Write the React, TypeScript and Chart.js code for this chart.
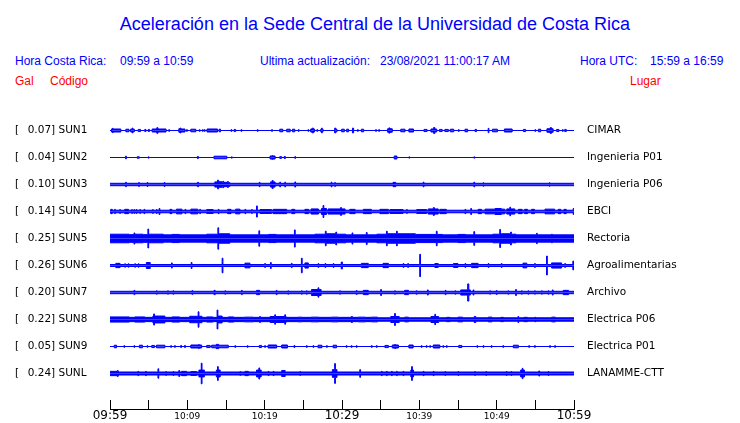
import React, { useEffect, useRef } from "react";
import { Chart, registerables } from "chart.js";

Chart.register(...registerables);

// ---------- data ----------
const CODES = ["SUN1", "SUN2", "SUN3", "SUN4", "SUN5", "SUN6", "SUN7", "SUN8", "SUN9", "SUNL"];
const PLACES = [
  "CIMAR", "Ingenieria P01", "Ingenieria P06", "EBCI", "Rectoria",
  "Agroalimentarias", "Archivo", "Electrica P06", "Electrica P01", "LANAMME-CTT",
];
const PEAKS = [0.07, 0.04, 0.1, 0.14, 0.25, 0.26, 0.2, 0.22, 0.05, 0.24];
// steady noise half-amplitude of each trace (Gal)
const BASE = [0, 0, 0.028, 0.03, 0.085, 0.023, 0.028, 0.04, 0, 0.035];
const TIME_LABELS = ["09:59", "10:09", "10:19", "10:29", "10:39", "10:49", "10:59"];

// envelope of each trace: [minute after 09:59, half-amplitude in Gal] (holds until next point)
const SUN1: [number, number][] = [
  [0, 0], [0.2, 0.035], [0.3, 0.05], [0.4, 0.035], [1.4, 0],
  [2.05, 0.03], [2.45, 0], [2.65, 0.03], [2.85, 0.055], [2.97, 0.03], [3.15, 0],
  [3.65, 0.025], [3.95, 0], [4.5, 0.025], [4.65, 0], [4.95, 0.025], [5.1, 0],
  [5.45, 0.035], [6.05, 0.065], [6.2, 0.035], [7.25, 0], [7.6, 0.02], [7.7, 0],
  [8.9, 0.04], [9.05, 0.055], [9.18, 0.035], [9.7, 0], [9.9, 0.02], [10.0, 0],
  [10.45, 0.03], [11.1, 0], [11.55, 0.02], [11.65, 0], [11.95, 0.02], [12.05, 0], [12.2, 0.02], [12.3, 0],
  [12.55, 0.035], [13.9, 0], [14.1, 0.03], [14.3, 0],
  [15.65, 0.02], [15.75, 0], [16.05, 0.025], [16.25, 0], [16.95, 0.02], [17.05, 0],
  [19.05, 0.02], [19.15, 0], [20.9, 0.02], [21.0, 0], [21.95, 0.03], [22.35, 0],
  [22.85, 0.03], [23.3, 0], [23.6, 0.03], [23.9, 0], [24.35, 0.02], [24.45, 0],
  [25.6, 0.02], [25.7, 0], [25.95, 0.035], [26.15, 0.055], [26.3, 0.035], [26.45, 0], [26.75, 0.02], [26.85, 0],
  [27.25, 0.03], [27.35, 0.055], [27.45, 0.03], [27.55, 0],
  [29.05, 0.055], [29.2, 0.03], [29.35, 0], [29.95, 0.03], [30.3, 0], [30.6, 0.03], [30.85, 0],
  [31.35, 0.055], [31.5, 0], [32.0, 0.02], [32.1, 0], [32.5, 0.03], [32.8, 0],
  [34.35, 0.02], [34.45, 0], [34.75, 0.02], [34.85, 0],
  [35.9, 0.04], [36.05, 0.06], [36.2, 0.04], [36.5, 0],
  [37.6, 0.03], [38.15, 0], [38.65, 0.035], [39.25, 0], [40.6, 0.025], [41.0, 0],
  [41.5, 0.035], [41.85, 0.07], [42.0, 0.035], [42.25, 0],
  [42.6, 0.025], [42.95, 0], [43.3, 0.025], [43.75, 0], [44.0, 0.03], [44.45, 0],
  [45.05, 0.02], [45.15, 0], [45.9, 0.03], [46.25, 0], [47.2, 0.025], [47.4, 0],
  [48.9, 0.05], [49.0, 0], [49.45, 0.03], [50.1, 0], [51.0, 0.035], [52.0, 0],
  [53.45, 0.025], [53.75, 0], [54.95, 0.02], [55.05, 0], [55.4, 0.03], [55.7, 0],
  [56.5, 0.04], [56.9, 0.065], [57.1, 0.04], [57.3, 0],
  [57.75, 0.025], [58.05, 0], [58.5, 0.02], [58.6, 0], [58.8, 0.025], [59.0, 0],
];
const SUN2: [number, number][] = [
  [0, 0], [2.0, 0.03], [2.12, 0], [3.5, 0.015], [3.8, 0], [4.95, 0.015], [5.05, 0],
  [11.3, 0.025], [11.42, 0], [13.45, 0.03], [15.1, 0], [15.7, 0.015], [15.8, 0],
  [20.7, 0.035], [20.95, 0.04], [21.1, 0.035], [21.35, 0], [21.95, 0.02], [22.2, 0],
  [22.5, 0.02], [22.7, 0], [23.9, 0.02], [24.0, 0], [36.75, 0.035], [37.1, 0],
  [38.65, 0.015], [38.75, 0], [47.05, 0.015], [47.15, 0],
];
const SUN3: [number, number][] = [
  [0, 0], [2.0, 0.05], [2.12, 0], [3.7, 0.045], [3.8, 0], [4.8, 0.045], [4.9, 0], [7.0, 0.045], [7.1, 0],
  [11.3, 0.05], [11.45, 0], [13.55, 0.06], [13.9, 0.1], [14.05, 0.065], [14.5, 0.055], [14.6, 0.075],
  [14.7, 0.05], [15.2, 0.07], [15.3, 0.045], [15.5, 0], [19.3, 0.05], [19.4, 0],
  [20.75, 0.06], [20.95, 0.09], [21.1, 0.06], [21.35, 0], [21.95, 0.055], [22.05, 0],
  [22.6, 0.055], [22.7, 0], [23.9, 0.06], [24.0, 0], [28.6, 0.055], [28.7, 0], [29.05, 0.045], [29.15, 0],
  [36.6, 0.05], [36.95, 0], [40.5, 0.055], [40.6, 0], [47.05, 0.055], [47.15, 0],
  [48.25, 0.04], [48.35, 0], [56.8, 0.04], [56.9, 0],
];
const SUN4: [number, number][] = [
  [0, 0], [0.1, 0.05], [0.3, 0], [0.6, 0.05], [0.7, 0], [1.25, 0.045], [1.35, 0], [1.9, 0.05], [2.4, 0],
  [2.8, 0.045], [2.9, 0], [3.1, 0.045], [3.2, 0], [3.4, 0.045], [3.5, 0], [3.85, 0.045], [3.95, 0],
  [4.4, 0.05], [4.5, 0], [5.5, 0.045], [5.6, 0], [6.0, 0.045], [6.1, 0], [6.35, 0.07], [6.45, 0],
  [7.75, 0.05], [8.0, 0], [8.6, 0.055], [9.3, 0], [9.7, 0.05], [9.8, 0], [10.45, 0.055], [11.35, 0],
  [11.6, 0.05], [11.7, 0], [12.5, 0.045], [13.35, 0], [14.0, 0.05], [14.1, 0], [15.2, 0.05], [15.65, 0],
  [16.25, 0.055], [16.8, 0], [17.45, 0.05], [17.55, 0], [18.3, 0.045], [18.4, 0], [18.95, 0.13], [19.05, 0],
  [19.4, 0.045], [20.9, 0], [21.1, 0.05], [22.85, 0], [23.5, 0.05], [23.9, 0], [25.2, 0.05], [25.7, 0],
  [26.0, 0.06], [26.95, 0], [27.35, 0.07], [27.55, 0.14], [27.65, 0.07], [28.0, 0], [28.2, 0.06],
  [29.8, 0.09], [29.95, 0.06], [30.4, 0], [31.0, 0.05], [31.7, 0], [32.75, 0.05], [33.8, 0],
  [34.9, 0.05], [36.0, 0], [36.2, 0.045], [37.9, 0], [38.35, 0.045], [38.45, 0], [39.65, 0.045], [40.95, 0],
  [41.15, 0.06], [41.8, 0.09], [41.95, 0.06], [42.45, 0], [42.65, 0.05], [43.5, 0], [45.9, 0.05], [46.0, 0],
  [46.65, 0.07], [46.75, 0], [47.6, 0.05], [48.05, 0], [48.5, 0.055], [49.8, 0.07], [50.6, 0.055], [51.05, 0],
  [51.3, 0.06], [51.7, 0.1], [51.8, 0.06], [52.35, 0], [52.8, 0.05], [53.3, 0], [53.6, 0.05], [54.0, 0],
  [54.5, 0.05], [54.9, 0], [56.25, 0.055], [57.5, 0], [57.95, 0.05], [58.3, 0], [58.7, 0.05], [59.0, 0],
  [59.9, 0.07],
];
const SUN5: [number, number][] = [
  [0, 0.1], [2.5, 0.09], [3.1, 0.13], [3.2, 0.1], [4.3, 0.09], [4.9, 0.22], [5.0, 0.1], [6.9, 0],
  [8.0, 0.095], [9.0, 0], [12.5, 0.1], [13.95, 0.25], [14.05, 0.11], [15.5, 0], [19.25, 0.18], [19.35, 0],
  [20.5, 0.095], [21.5, 0], [23.85, 0.2], [23.95, 0], [26.5, 0.1], [27.85, 0.17], [27.95, 0.11],
  [29.2, 0.15], [29.3, 0.1], [30.5, 0], [31.3, 0.13], [31.4, 0], [33.15, 0.14], [33.25, 0],
  [34.5, 0.1], [35.75, 0.17], [35.85, 0.11], [37.05, 0.17], [37.15, 0.11], [39.5, 0.095],
  [42.2, 0.17], [42.3, 0.095], [43.0, 0], [45.0, 0.095], [46.0, 0], [47.05, 0.16], [47.15, 0],
  [49.5, 0.1], [50.4, 0.21], [50.5, 0.11], [51.8, 0.15], [51.9, 0.1], [52.5, 0],
  [55.15, 0.12], [55.25, 0], [57.1, 0.1], [57.2, 0],
];
const SUN6: [number, number][] = [
  [0, 0], [0.75, 0.05], [1.3, 0], [1.9, 0.04], [2.0, 0], [2.35, 0.04], [2.45, 0], [3.2, 0.04], [3.3, 0],
  [3.65, 0.04], [3.75, 0], [4.7, 0.07], [5.2, 0], [7.95, 0.06], [8.05, 0], [10.5, 0.07], [10.6, 0],
  [14.5, 0.17], [14.6, 0], [17.45, 0.055], [18.1, 0], [20.0, 0.045], [20.1, 0], [20.75, 0.07], [20.85, 0],
  [23.45, 0.05], [23.55, 0], [24.75, 0.17], [24.85, 0], [25.2, 0.06], [25.65, 0], [26.9, 0.045], [27.0, 0],
  [27.8, 0.045], [27.9, 0], [28.85, 0.045], [28.95, 0], [29.9, 0.08], [30.05, 0], [32.5, 0.05], [33.4, 0],
  [35.3, 0.05], [36.0, 0], [37.9, 0.045], [38.0, 0], [38.5, 0.045], [38.6, 0], [40.05, 0.26], [40.15, 0],
  [42.0, 0.045], [42.45, 0], [44.4, 0.045], [45.0, 0], [45.9, 0.045], [46.0, 0], [46.75, 0.05], [47.6, 0],
  [48.9, 0.045], [49.0, 0], [50.6, 0.045], [50.7, 0], [53.4, 0.055], [53.9, 0], [54.9, 0.045], [55.0, 0],
  [56.45, 0.22], [56.55, 0], [57.1, 0.06], [58.4, 0], [58.8, 0.045], [58.9, 0], [59.85, 0.1],
];
const SUN7: [number, number][] = [
  [0, 0], [3.1, 0.05], [3.2, 0], [6.0, 0.04], [6.1, 0], [7.45, 0.04], [7.55, 0], [8.15, 0.04], [8.25, 0],
  [10.6, 0.045], [10.7, 0], [13.45, 0.05], [13.6, 0], [14.85, 0.04], [14.95, 0], [17.0, 0.05], [17.1, 0],
  [18.95, 0.05], [19.35, 0], [21.5, 0.05], [21.6, 0], [23.0, 0.04], [23.1, 0], [24.75, 0.04], [24.85, 0],
  [25.4, 0.04], [25.5, 0], [26.05, 0.07], [26.9, 0.11], [27.0, 0.07], [27.3, 0], [29.7, 0.04], [29.8, 0],
  [31.85, 0.045], [31.95, 0], [32.75, 0.05], [33.4, 0], [35.0, 0.07], [35.1, 0], [36.8, 0.04], [36.9, 0],
  [38.1, 0.05], [38.6, 0], [39.6, 0.04], [39.7, 0], [41.05, 0.06], [41.15, 0], [43.35, 0.05], [43.45, 0],
  [44.6, 0.04], [44.7, 0], [45.35, 0.06], [46.25, 0.2], [46.4, 0.06], [46.6, 0], [46.95, 0.06], [47.05, 0],
  [49.1, 0.04], [49.2, 0], [49.95, 0.045], [50.05, 0], [51.45, 0.04], [51.55, 0], [52.45, 0.07], [52.55, 0],
  [53.2, 0.04], [53.3, 0], [54.05, 0.04], [54.15, 0], [54.9, 0.04], [55.0, 0], [55.8, 0.04], [55.9, 0],
  [56.65, 0.04], [56.75, 0], [57.2, 0.06], [57.3, 0], [58.6, 0.05], [59.3, 0],
];
const SUN8: [number, number][] = [
  [0, 0.06], [2.5, 0.05], [3.2, 0.06], [4.5, 0.05], [5.55, 0.08], [5.65, 0.13], [5.75, 0.08], [7.1, 0.05],
  [8.0, 0.06], [9.0, 0.05], [10.3, 0.075], [11.4, 0.18], [11.5, 0.075], [11.9, 0.05], [12.5, 0.06],
  [13.3, 0.05], [13.85, 0.22], [13.95, 0.08], [14.5, 0.05], [15.3, 0.06], [16.0, 0.05], [17.4, 0.055],
  [18.5, 0.05], [19.35, 0.07], [19.45, 0.05], [20.7, 0.07], [21.3, 0.11], [21.4, 0.07], [22.6, 0.11],
  [22.7, 0.06], [22.85, 0.05], [24.3, 0.055], [24.8, 0.05], [26.0, 0.055], [27.0, 0.05], [28.6, 0.055],
  [29.5, 0.05], [31.2, 0.07], [31.35, 0.05], [32.1, 0.055], [33.0, 0.05], [33.8, 0.055], [34.6, 0],
  [36.3, 0.07], [36.8, 0.14], [36.9, 0.07], [37.4, 0], [38.1, 0.055], [38.6, 0], [41.5, 0.07], [42.0, 0.12],
  [42.1, 0.07], [42.5, 0], [43.5, 0.05], [44.0, 0], [45.0, 0.055], [45.6, 0], [47.1, 0.07], [47.3, 0],
  [48.9, 0.055], [49.4, 0], [50.5, 0.05], [50.9, 0], [52.75, 0.07], [52.85, 0], [53.5, 0.05], [54.0, 0],
  [54.9, 0.05], [55.1, 0], [57.1, 0.055], [57.6, 0],
];
const SUN9: [number, number][] = [
  [0, 0], [0.55, 0.03], [0.85, 0], [1.8, 0.02], [1.9, 0], [3.1, 0.02], [3.2, 0], [3.8, 0.03], [4.2, 0],
  [4.8, 0.02], [4.9, 0], [5.4, 0.025], [5.75, 0], [6.0, 0.03], [7.1, 0], [7.85, 0.02], [7.95, 0],
  [8.35, 0.02], [8.45, 0], [9.15, 0.025], [9.25, 0], [9.65, 0.025], [9.75, 0], [10.45, 0.035],
  [11.45, 0.045], [11.55, 0.035], [11.85, 0], [12.5, 0.025], [12.95, 0], [13.15, 0.03], [13.75, 0.05],
  [14.05, 0.03], [15.3, 0], [16.15, 0.02], [16.25, 0], [17.75, 0.02], [17.85, 0], [19.3, 0.025], [19.6, 0],
  [20.0, 0.02], [20.1, 0], [20.45, 0.035], [21.55, 0], [22.2, 0.035], [22.95, 0], [23.8, 0.025], [23.9, 0],
  [25.4, 0.02], [25.5, 0], [26.25, 0.02], [26.35, 0], [26.9, 0.03], [27.4, 0], [28.0, 0.02], [28.1, 0],
  [28.85, 0.03], [29.3, 0], [30.55, 0.02], [30.65, 0], [31.2, 0.02], [31.3, 0], [31.85, 0.02], [31.95, 0],
  [33.8, 0.02], [33.9, 0], [34.45, 0.02], [34.55, 0], [35.55, 0.025], [36.0, 0], [36.5, 0.035],
  [36.8, 0.045], [36.95, 0.035], [37.3, 0], [38.65, 0.035], [39.2, 0], [40.25, 0.02], [40.35, 0],
  [40.9, 0.02], [41.0, 0], [41.35, 0.02], [41.45, 0], [41.8, 0.035], [42.65, 0], [43.05, 0.02], [43.15, 0],
  [43.5, 0.02], [43.6, 0], [45.1, 0.025], [45.5, 0], [47.45, 0.02], [47.55, 0], [48.25, 0.02], [48.35, 0],
  [49.3, 0.02], [49.4, 0], [50.8, 0.02], [50.9, 0], [52.15, 0.03], [52.8, 0], [54.15, 0.02], [54.25, 0],
  [54.9, 0.02], [55.0, 0], [56.85, 0.02], [56.95, 0], [57.5, 0.02], [57.6, 0],
];
const SUNL: [number, number][] = [
  [0, 0.05], [0.95, 0.07], [1.05, 0.05], [1.1, 0], [3.6, 0.05], [3.7, 0], [4.6, 0.05], [4.7, 0],
  [6.2, 0.11], [6.3, 0], [7.2, 0.045], [7.3, 0], [8.15, 0.045], [8.25, 0], [8.9, 0.07], [9.0, 0],
  [9.25, 0.05], [9.9, 0], [10.45, 0.045], [11.2, 0], [11.5, 0.08], [11.8, 0.24], [11.9, 0.08], [12.2, 0],
  [13.75, 0.08], [13.9, 0.16], [14.0, 0.08], [14.25, 0], [16.8, 0.045], [16.9, 0], [17.45, 0.05], [17.9, 0],
  [18.95, 0.08], [19.25, 0.13], [19.35, 0.08], [19.55, 0], [20.45, 0.05], [20.55, 0], [21.1, 0.05], [21.2, 0],
  [22.2, 0.07], [22.65, 0], [24.55, 0.045], [24.65, 0], [28.75, 0.09], [29.05, 0.23], [29.15, 0.09],
  [29.35, 0], [32.3, 0.09], [32.4, 0], [35.1, 0.05], [35.2, 0], [35.75, 0.05], [35.85, 0], [36.4, 0.05],
  [36.5, 0], [37.05, 0.05], [37.15, 0], [37.9, 0.05], [38.0, 0], [38.9, 0.08], [39.0, 0.16], [39.1, 0.08],
  [39.25, 0], [40.5, 0.05], [40.6, 0], [41.8, 0.05], [41.9, 0], [43.3, 0.045], [43.4, 0], [45.0, 0.045],
  [45.1, 0], [47.15, 0.045], [47.25, 0], [48.6, 0.045], [48.7, 0], [51.25, 0.045], [51.35, 0],
  [51.85, 0.045], [51.95, 0], [53.1, 0.08], [53.3, 0.12], [53.4, 0.08], [53.6, 0], [55.45, 0.06],
  [55.55, 0], [56.65, 0.045], [56.75, 0],
];
const TRACES = [SUN1, SUN2, SUN3, SUN4, SUN5, SUN6, SUN7, SUN8, SUN9, SUNL];

// ---------- layout constants ----------
const W = 740;
const H = 423;
const ROW_PX = 27; // vertical distance between traces
const PX_PER_GAL = 43;
const FIRST_ROW_Y = 130.5;
const AREA_TOP = 116;
const AREA_BOTTOM = 409;
const AREA_LEFT = 110;
const AREA_RIGHT = 574;
const LEFT_PAD = 15;
const GAIN = PX_PER_GAL / ROW_PX;
const YMIN = (AREA_TOP - FIRST_ROW_Y) / ROW_PX;
const YMAX = YMIN + (AREA_BOTTOM - AREA_TOP) / ROW_PX;
const BLUE = "#0000ff";

const fmtLabel = (i: number) => `[\u2002 ${PEAKS[i].toFixed(2)}] ${CODES[i]}`;

function buildDatasets() {
  const ds: any[] = [];
  TRACES.forEach((pairs, i) => {
    const pts = pairs.map(([t, a]) => ({ t, a: Math.max(a, BASE[i]) }));
    const last = pts[pts.length - 1];
    if (last.t < 60) pts.push({ t: 60, a: last.a });
    for (const sign of [-1, 1]) {
      ds.push({
        label: CODES[i] + (sign < 0 ? "+" : "-"),
        data: pts.map((p) => ({ x: p.t, y: i + sign * p.a * GAIN })),
        stepped: true,
        borderColor: BLUE,
        backgroundColor: BLUE,
        borderWidth: 1,
        pointRadius: 0,
        fill: { value: i },
      });
    }
  });
  return ds;
}

export default function App() {
  const ref = useRef<HTMLCanvasElement | null>(null);
  useEffect(() => {
    if (!ref.current) return;
    const chart = new Chart(ref.current, {
      type: "line",
      data: { datasets: buildDatasets() },
      options: {
        responsive: false,
        animation: false,
        events: [],
        layout: { padding: { left: LEFT_PAD, top: AREA_TOP, right: 0, bottom: 0 } },
        plugins: { legend: { display: false }, tooltip: { enabled: false }, title: { display: false } },
        scales: {
          x: {
            type: "linear",
            position: "bottom",
            min: 0,
            max: 60,
            afterFit: (s: any) => {
              s.height = H - AREA_BOTTOM;
            },
            afterBuildTicks: (s: any) => {
              const t = [];
              for (let v = 0; v <= 60; v += 5) t.push({ value: v });
              s.ticks = t;
            },
            grid: { display: true, drawOnChartArea: false, drawTicks: true, tickLength: -9, color: "#000", lineWidth: 1 },
            border: { display: true, color: "#000", width: 1 },
            ticks: {
              autoSkip: false,
              maxRotation: 0,
              minRotation: 0,
              padding: 9,
              color: "#000",
              font: (ctx: any) =>
                ctx.tick && ctx.tick.value % 30 === 0
                  ? { family: "DejaVu Sans", size: 12, lineHeight: 1.2 }
                  : { family: "DejaVu Sans", size: 9, lineHeight: 1.6 },
              callback: (v: any) => (Number(v) % 10 === 0 ? TIME_LABELS[Number(v) / 10] : ""),
            },
          },
          y: {
            type: "linear",
            position: "left",
            reverse: true,
            min: YMIN,
            max: YMAX,
            afterFit: (s: any) => {
              s.width = AREA_LEFT - LEFT_PAD;
            },
            afterBuildTicks: (s: any) => {
              s.ticks = CODES.map((_, i) => ({ value: i }));
            },
            grid: { display: false, drawTicks: false },
            border: { display: false },
            ticks: {
              autoSkip: false,
              crossAlign: "far",
              padding: 0,
              color: "#000",
              font: { family: "DejaVu Sans", size: 10.5 },
              callback: (_v: any, idx: number) => fmtLabel(idx),
            },
          },
          y2: {
            type: "linear",
            position: "right",
            reverse: true,
            min: YMIN,
            max: YMAX,
            afterFit: (s: any) => {
              s.width = W - AREA_RIGHT;
            },
            afterBuildTicks: (s: any) => {
              s.ticks = PLACES.map((_, i) => ({ value: i }));
            },
            grid: { display: false, drawTicks: true, tickLength: 13 },
            border: { display: false },
            ticks: {
              autoSkip: false,
              crossAlign: "near",
              padding: 0,
              color: "#000",
              font: { family: "DejaVu Sans", size: 10.5 },
              callback: (_v: any, idx: number) => PLACES[idx],
            },
          },
        },
      } as any,
    });
    return () => chart.destroy();
  }, []);

  const head: React.CSSProperties = {
    position: "absolute",
    fontFamily: "'Liberation Sans', Arial, sans-serif",
    fontSize: 12,
    lineHeight: "12px",
    whiteSpace: "pre",
    margin: 0,
  };
  const blue = { ...head, color: BLUE };
  const red = { ...head, color: "#ff0000" };

  return (
    <div style={{ position: "absolute", left: 0, top: 0, width: W, height: H, background: "#fff", overflow: "hidden" }}>
      <div
        style={{
          position: "absolute",
          left: 0,
          top: 15,
          width: 750,
          textAlign: "center",
          fontFamily: "'Liberation Sans', Arial, sans-serif",
          fontSize: 18,
          lineHeight: "18px",
          color: BLUE,
          whiteSpace: "pre",
        }}
      >
        Aceleración en la Sede Central de la Universidad de Costa Rica
      </div>
      <span style={{ ...blue, left: 15, top: 55 }}>Hora Costa Rica:</span>
      <span style={{ ...blue, left: 120, top: 55 }}>09:59 a 10:59</span>
      <span style={{ ...blue, left: 260, top: 55 }}>Ultima actualización:</span>
      <span style={{ ...blue, left: 380, top: 55 }}>23/08/2021 11:00:17 AM</span>
      <span style={{ ...blue, left: 580, top: 55 }}>Hora UTC:</span>
      <span style={{ ...blue, left: 650, top: 55 }}>15:59 a 16:59</span>
      <span style={{ ...red, left: 15, top: 75 }}>Gal</span>
      <span style={{ ...red, left: 50, top: 75 }}>Código</span>
      <span style={{ ...red, left: 630, top: 75 }}>Lugar</span>
      <canvas ref={ref} width={W} height={H} style={{ position: "absolute", left: 0, top: 0, width: W, height: H }} />
    </div>
  );
}
